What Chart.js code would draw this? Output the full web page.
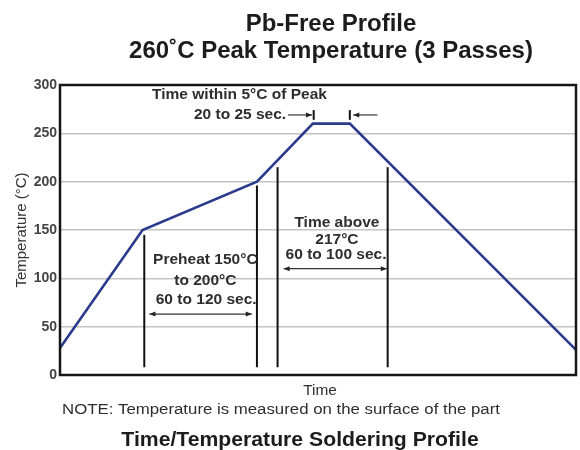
<!DOCTYPE html>
<html>
<head>
<meta charset="utf-8">
<script src="https://cdn.jsdelivr.net/npm/chart.js@4/dist/chart.umd.min.js"></script>
<style>
    html, body { margin: 0; padding: 0; background: #fff; }
    #wrap { width: 580px; height: 450px; }
</style>
</head>
<body>
<div id="wrap"><canvas id="profileChart" width="580" height="450"></canvas></div>
<script>
// Reflow profile points (time in sec, temperature in °C)
const timeSec = [0, 48, 114.5, 147, 168.5, 300];
const tempC = [28, 150, 200, 260, 260, 26];
const yTicks = [0, 50, 100, 150, 200, 250, 300];

// Annotation marker lines (time, top temp)
const markerTime = [49, 114.5, 126.5, 190.5];
const markerTop = [145, 196, 215, 215];
const markerBottom = 8;

// Peak window ticks
const peakTickTime = [147.5, 168.5];

const FONT = '"Liberation Sans", Arial, sans-serif';
const TEXT = '#2e2e2e';

function arrowHead(ctx, x, y, dir) {
    ctx.beginPath();
    ctx.moveTo(x, y);
    ctx.lineTo(x - dir * 6, y - 2.5);
    ctx.lineTo(x - dir * 6, y + 2.5);
    ctx.closePath();
    ctx.fill();
}

function hArrow(ctx, x1, x2, y, both) {
    ctx.beginPath();
    ctx.moveTo(x1, y);
    ctx.lineTo(x2, y);
    ctx.stroke();
    const dir = x2 > x1 ? 1 : -1;
    arrowHead(ctx, x2, y, dir);
    if (both) arrowHead(ctx, x1, y, -dir);
}

// text with a little horizontal stretch, the source scan is wider than tall
function stretchText(ctx, txt, x, y, sx) {
    ctx.save();
    ctx.translate(x, y);
    ctx.scale(sx, 1);
    ctx.fillText(txt, 0, 0);
    ctx.restore();
}

const annotations = {
    id: 'annotations',
    afterDatasetsDraw(chart) {
        const ctx = chart.ctx;
        const xs = chart.scales.x, ys = chart.scales.y;
        const X = v => xs.getPixelForValue(v);
        const Y = v => ys.getPixelForValue(v);
        ctx.save();

        // vertical marker lines
        ctx.strokeStyle = '#111';
        ctx.lineWidth = 2;
        markerTime.forEach((t, i) => {
            ctx.beginPath();
            ctx.moveTo(X(t), Y(markerTop[i]));
            ctx.lineTo(X(t), Y(markerBottom));
            ctx.stroke();
        });

        // peak window ticks
        peakTickTime.forEach(t => {
            ctx.beginPath();
            ctx.moveTo(X(t), Y(274));
            ctx.lineTo(X(t), Y(264));
            ctx.stroke();
        });

        // arrows
        ctx.fillStyle = '#222';
        ctx.strokeStyle = '#333';
        ctx.lineWidth = 1.2;
        hArrow(ctx, X(52), X(111.5), Y(63), true);
        hArrow(ctx, X(130), X(190), Y(110), true);
        hArrow(ctx, X(132.5), X(146.5), Y(269), false);
        hArrow(ctx, X(184.5), X(170.5), Y(269), false);

        // annotation text
        ctx.fillStyle = TEXT;
        ctx.font = 'bold 14.5px ' + FONT;
        ctx.textBaseline = 'middle';
        ctx.textAlign = 'left';
        stretchText(ctx, 'Time within 5°C of Peak', X(53.5), Y(289.5), 1.07);
        ctx.textAlign = 'right';
        stretchText(ctx, '20 to 25 sec.', X(131.5), Y(269), 1.07);
        ctx.textAlign = 'center';
        stretchText(ctx, 'Preheat 150°C', X(84.5), Y(119), 1.07);
        stretchText(ctx, 'to 200°C', X(84.5), Y(97.5), 1.07);
        stretchText(ctx, '60 to 120 sec.', X(85), Y(78), 1.07);
        stretchText(ctx, 'Time above', X(161), Y(157), 1.07);
        stretchText(ctx, '217°C', X(161), Y(140), 1.07);
        stretchText(ctx, '60 to 100 sec.', X(160.5), Y(124), 1.07);

        ctx.restore();
    },
    afterDraw(chart) {
        const ctx = chart.ctx;
        const a = chart.chartArea;
        ctx.save();
        // frame
        ctx.strokeStyle = '#151515';
        ctx.lineWidth = 2.5;
        ctx.strokeRect(a.left, a.top, a.right - a.left, a.bottom - a.top);

        // titles and notes
        ctx.fillStyle = '#1c1c1c';
        ctx.textAlign = 'center';
        ctx.textBaseline = 'middle';
        ctx.font = 'bold 24px ' + FONT;
        ctx.fillText('Pb-Free Profile', 331, 24);
        ctx.fillText('260˚C Peak Temperature (3 Passes)', 331, 51);

        ctx.fillStyle = TEXT;
        ctx.font = '14px ' + FONT;
        stretchText(ctx, 'Time', (a.left + a.right) / 2 + 2, 391, 1.1);
        ctx.textAlign = 'left';
        ctx.font = '14px ' + FONT;
        stretchText(ctx, 'NOTE: Temperature is measured on the surface of the part', 62, 410, 1.2);

        ctx.fillStyle = '#1c1c1c';
        ctx.textAlign = 'center';
        ctx.font = 'bold 20px ' + FONT;
        stretchText(ctx, 'Time/Temperature Soldering Profile', 300, 440, 1.06);
        ctx.restore();
    }
};

new Chart(document.getElementById('profileChart').getContext('2d'), {
    type: 'line',
    data: {
        datasets: [{
            label: 'Pb-Free Profile',
            data: timeSec.map((t, i) => ({ x: t, y: tempC[i] })),
            borderColor: '#2b3a8c',
            borderWidth: 2.6,
            pointRadius: 0,
            tension: 0,
            fill: false,
            clip: false
        }]
    },
    options: {
        responsive: false,
        animation: false,
        events: [],
        layout: { padding: { top: 85, bottom: 75, left: 0, right: 4 } },
        plugins: {
            legend: { display: false },
            tooltip: { enabled: false },
            title: { display: false }
        },
        scales: {
            x: {
                type: 'linear',
                min: 0,
                max: 300,
                display: false
            },
            y: {
                min: 0,
                max: 300,
                afterFit(scale) { scale.width = 60; },
                afterBuildTicks(scale) { scale.ticks = yTicks.map(v => ({ value: v })); },
                ticks: {
                    padding: 3,
                    color: '#444',
                    font: { family: FONT, size: 14, weight: 'bold' }
                },
                grid: { color: '#c4c4c4', lineWidth: 1.5, drawTicks: false },
                border: { display: false },
                title: {
                    display: true,
                    text: 'Temperature (°C)',
                    color: '#333',
                    font: { family: FONT, size: 15 },
                    padding: { top: 13, bottom: 0 }
                }
            }
        }
    },
    plugins: [annotations]
});
</script>
</body>
</html>
